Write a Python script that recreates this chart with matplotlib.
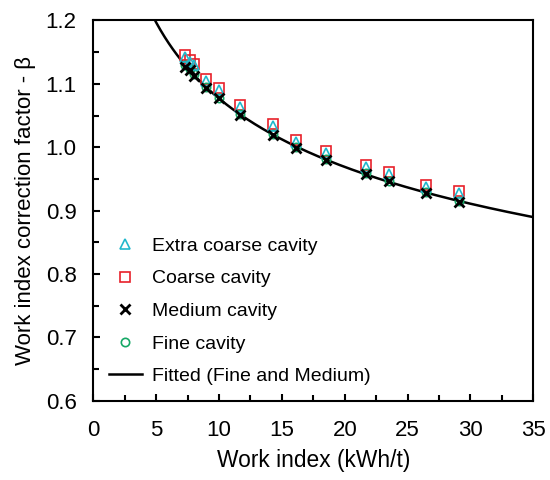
import numpy as np
import matplotlib
matplotlib.use("Agg")
import matplotlib.pyplot as plt

plt.rcParams["font.family"] = ["Liberation Sans", "DejaVu Sans"]

# work index values (kWh/t), shared by all cavities
work_index = [7.3, 7.7, 8.0, 9.0, 10.0, 11.7, 14.3, 16.1, 18.5, 21.7, 23.5, 26.5, 29.1]

beta_extra_coarse = [1.142, 1.134, 1.129, 1.105, 1.090, 1.064, 1.033, 1.009, 0.991, 0.969, 0.958, 0.938, 0.928]
beta_coarse = [1.145, 1.137, 1.132, 1.108, 1.093, 1.067, 1.036, 1.012, 0.994, 0.972, 0.961, 0.941, 0.931]
beta_medium = [1.127, 1.122, 1.113, 1.093, 1.077, 1.051, 1.019, 0.998, 0.980, 0.957, 0.946, 0.927, 0.914]
beta_fine = [1.129, 1.123, 1.115, 1.095, 1.078, 1.053, 1.021, 1.000, 0.981, 0.959, 0.947, 0.929, 0.915]

x_ticks = [0, 5, 10, 15, 20, 25, 30, 35]
y_ticks = [0.6, 0.7, 0.8, 0.9, 1.0, 1.1, 1.2]

# power law fit on fine + medium data (log-log linear fit)
x_fit_data = np.array(work_index + work_index)
y_fit_data = np.array(beta_medium + beta_fine)
b, log_a = np.polyfit(np.log(x_fit_data), np.log(y_fit_data), 1)
x_curve = np.linspace(3, 35, 300)
y_curve = np.exp(log_a) * x_curve ** b

fig = plt.figure(figsize=(5.5, 4.8), dpi=100)
ax = fig.add_axes([0.1697, 0.1652, 0.80, 0.7921])

ax.plot(work_index, beta_extra_coarse, linestyle="none", marker="^", markersize=6.5,
        markerfacecolor="none", markeredgecolor="#22B8CC", markeredgewidth=1.2,
        label="Extra coarse cavity", zorder=4)
ax.plot(work_index, beta_coarse, linestyle="none", marker="s", markersize=6.5,
        markerfacecolor="none", markeredgecolor="#E8202A", markeredgewidth=1.2,
        label="Coarse cavity", zorder=3)
ax.plot(work_index, beta_medium, linestyle="none", marker="x", markersize=6.5,
        markeredgecolor="black", markeredgewidth=2,
        label="Medium cavity", zorder=4)
ax.plot(work_index, beta_fine, linestyle="none", marker="o", markersize=6,
        markerfacecolor="none", markeredgecolor="#16A866", markeredgewidth=1.2,
        label="Fine cavity", zorder=3)
ax.plot(x_curve, y_curve, color="black", linewidth=1.8,
        label="Fitted (Fine and Medium)", zorder=2)

ax.set_xlim(0, 35)
ax.set_ylim(0.6, 1.2)
ax.set_xticks(x_ticks)
ax.set_yticks(y_ticks)
ax.set_yticklabels(["%.1f" % v for v in y_ticks])
ax.set_xticks(np.arange(2.5, 35, 5), minor=True)
ax.set_yticks(np.arange(0.65, 1.2, 0.1), minor=True)
ax.tick_params(which="both", direction="in", width=1.5, labelsize=16,
               top=False, right=False)
ax.tick_params(axis="x", which="major", pad=14)
ax.tick_params(axis="y", which="major", pad=12)
ax.tick_params(which="major", length=5)
ax.tick_params(which="minor", length=4)
for sp in ax.spines.values():
    sp.set_linewidth(1.5)

ax.set_xlabel("Work index (kWh/t)", fontsize=16.4, labelpad=6)
ax.set_ylabel("Work index correction factor - β", fontsize=16, labelpad=7)

ax.legend(loc="lower left", bbox_to_anchor=(0.0, 0.0), frameon=False,
          fontsize=14, handlelength=1.7, handletextpad=0.5, labelspacing=0.77,
          borderaxespad=0.4)

fig.savefig("out.png", dpi=100)
